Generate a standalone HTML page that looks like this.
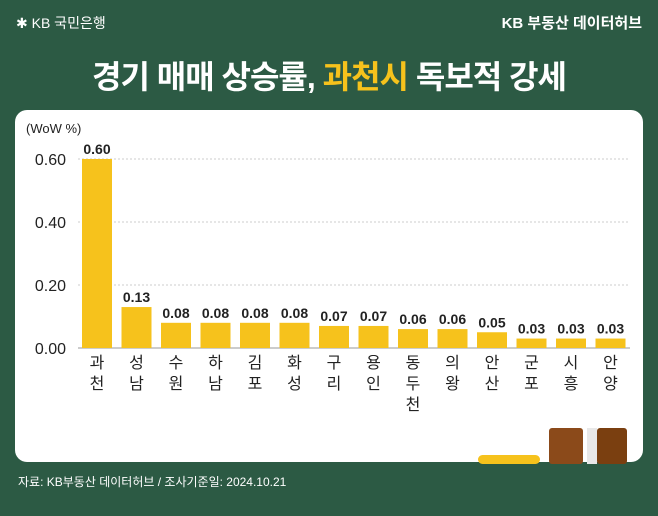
<!DOCTYPE html>
<html><head><meta charset="utf-8"><style>
body{margin:0;width:658px;height:516px;overflow:hidden;background:#2c5a44;font-family:"Liberation Sans","Noto Sans CJK KR",sans-serif;position:relative}
.t{position:absolute;color:#fff}
</style></head><body>
<div class="t" style="left:16px;top:13px;font-size:14px">✱ KB 국민은행</div>
<div class="t" style="right:16px;top:12px;font-size:15px;font-weight:bold">KB 부동산 데이터허브</div>
<div class="t" style="left:0;width:658px;text-align:center;top:52px;font-size:32px;font-weight:bold;letter-spacing:-1px">경기 매매 상승률, <span style="color:#f6c21c">과천시</span> 독보적 강세</div>
<div style="position:absolute;left:15px;top:110px;width:628px;height:352px;background:#fff;border-radius:12px"></div>
<svg width="658" height="516" style="position:absolute;left:0;top:0">
<g id="g"></g>
<rect x="478" y="455" width="62" height="9" rx="4.5" fill="#f6c21c"/>
<rect x="549" y="428" width="34" height="36" rx="3" fill="#8b4a1a"/>
<rect x="587" y="428" width="10" height="36" fill="#e8e8e8"/>
<rect x="597" y="428" width="30" height="36" rx="3" fill="#7a3f10"/>
</svg>
<div class="t" style="left:18px;top:473px;font-size:12px">자료: KB부동산 데이터허브 / 조사기준일: 2024.10.21</div>
<script>
const categories=["과천","성남","수원","하남","김포","화성","구리","용인","동두천","의왕","안산","군포","시흥","안양"];
const values=[0.60,0.13,0.08,0.08,0.08,0.08,0.07,0.07,0.06,0.06,0.05,0.03,0.03,0.03];
const ticks=[0,0.2,0.4,0.6];
const ns="http://www.w3.org/2000/svg",g=document.getElementById("g");
const y=v=>348-v*315, x=i=>97+i*39.5;
function mk(t,a,txt){const e=document.createElementNS(ns,t);for(const k in a)e.setAttribute(k,a[k]);if(txt!=null)e.textContent=txt;g.appendChild(e);return e;}
let u=mk("text",{x:26,y:133,"font-size":13,fill:"#222"},"(WoW %)");


ticks.forEach(t=>{
 if(t>0){const l=mk("line",{x1:78,x2:630,y1:y(t),y2:y(t),stroke:"#ccc","stroke-dasharray":"2,2"});
 
 }
 const tx=mk("text",{x:66,y:y(t)+6,"text-anchor":"end","font-size":16,fill:"#222"},t.toFixed(2));
 
 
});
const ax=mk("line",{x1:78,x2:630,y1:348,y2:348,stroke:"#999"});


categories.forEach((c,i)=>{
 const r=mk("rect",{x:x(i)-15,y:y(values[i]),width:30,height:348-y(values[i]),fill:"#f6c21c"});
 
 
 const v=mk("text",{x:x(i),y:y(values[i])-5,"text-anchor":"middle","font-size":14,"font-weight":"bold",fill:"#222"},values[i].toFixed(2));
 
 
 [...c].forEach((ch,j)=>{
  const t=mk("text",{x:x(i),y:368+j*21,"text-anchor":"middle","font-size":16,fill:"#222"},ch);
  
  
 });
});
</script>
</body></html>
